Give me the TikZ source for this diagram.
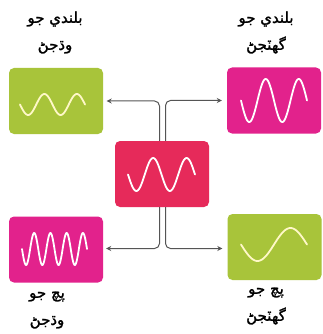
\documentclass[tikz,border=0pt]{standalone}
\usepackage{fontspec}
\newfontfamily\arabicfont[Script=Arabic,FakeBold=1.5]{DejaVu Sans}
\TeXXeTstate=1
\usetikzlibrary{arrows.meta}
\definecolor{lime}{RGB}{168,196,58}
\definecolor{pinkbox}{RGB}{226,34,140}
\definecolor{crimson}{RGB}{230,42,90}
\definecolor{paleyellow}{RGB}{255,248,200}
\definecolor{conn}{RGB}{85,85,85}
\begin{document}
\begin{tikzpicture}[x=1pt,y=-1pt,
  box/.style={rounded corners=5pt, minimum width=94pt, minimum height=66pt, inner sep=0pt},
  wave/.style={line width=1.8pt, line cap=round, line join=round},
  conn/.style={draw=conn, line width=1pt, rounded corners=5pt, -{Stealth[length=5pt,width=5pt]}},
  lbl/.style={font=\arabicfont\fontsize{15}{27}\selectfont, align=center, inner sep=0pt}]
\useasboundingbox[fill=white] (0,0) rectangle (323,334);
% boxes
\node[box, fill=lime] (tl) at (56,101) {};
\node[box, fill=pinkbox] (tr) at (274,100.5) {};
\node[box, fill=crimson] (c) at (162,174) {};
\node[box, fill=pinkbox] (bl) at (56,249.5) {};
\node[box, fill=lime] (br) at (274.5,247) {};
% connectors
\draw[conn] ([xshift=-2.5pt]c.north) |- ([xshift=3.5pt]tl.east);
\draw[conn] ([xshift=3.5pt]c.north) |- ([xshift=-5pt]tr.west);
\draw[conn] ([xshift=-2.5pt]c.south) |- ([xshift=3pt]bl.east |- 0,248.5);
\draw[conn] ([xshift=3.5pt]c.south) |- ([xshift=-5pt]br.west |- 0,248.5);
% waves
\draw[wave, paleyellow] plot[domain=0:720, samples=120] ({20+\x/720*65}, {104.5+10.5*sin(\x)});
\draw[wave, white] plot[domain=0:720, samples=120] ({241+\x/720*66}, {100.5+21.5*sin(\x)});
\draw[wave, white] plot[domain=0:720, samples=120] ({128+\x/720*67}, {174.5+16.5*sin(\x)});
\draw[wave, white] plot[domain=0:1440, samples=200] ({22+\x/1440*65}, {249+16*sin(\x)});
\draw[wave, paleyellow] plot[domain=0:360, samples=80] ({241+\x/360*66}, {244.5+16.5*sin(\x)});
% labels
\node[lbl] (ltl) at (55,32.5) {\beginR بلندي جو\endR\\\beginR وڌجڻ\endR};
\node[lbl] (ltr) at (266,32.5) {\beginR بلندي جو\endR\\\beginR گھٽجڻ\endR};
\node[lbl] (lbl) at (47,310) {\beginR پچ جو\endR\\\beginR وڌجڻ\endR};
\node[lbl] (lbr) at (266,306) {\beginR پچ جو\endR\\\beginR گھٽجڻ\endR};
\end{tikzpicture}
\end{document}
